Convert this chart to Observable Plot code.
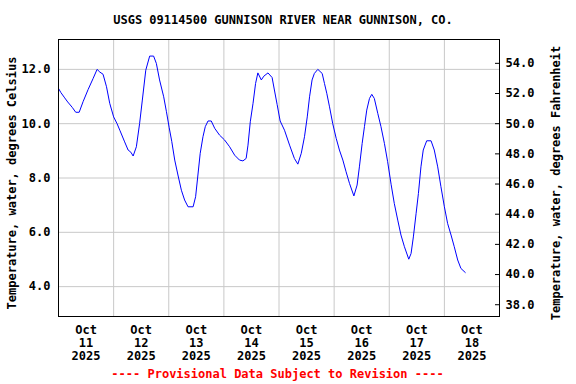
<!DOCTYPE html>
<html>
<head>
<meta charset="utf-8">
<script src="https://cdn.jsdelivr.net/npm/d3@7"></script>
<script src="https://cdn.jsdelivr.net/npm/@observablehq/plot@0.6"></script>
<style>
  body { margin: 0; background: #fff; }
  #wrap { width: 576px; height: 384px; overflow: hidden; font-family: "DejaVu Sans Mono", monospace; font-weight: bold; font-size: 12px; }
  .title { height: 30px; box-sizing: border-box; padding-top: 13px; line-height: 14px; text-align: center; padding-right: 10px; color: #000; white-space: pre; }
  .footer { height: 20px; line-height: 20px; text-align: center; padding-right: 21px; color: #ff0000; white-space: pre; }
  #chart svg { display: block; }
</style>
</head>
<body>
<div id="wrap">
  <div class="title" id="title"></div>
  <div id="chart"></div>
  <div class="footer" id="footer"></div>
</div>
<script>
// ---- data ----
const title = "USGS 09114500 GUNNISON RIVER NEAR GUNNISON, CO.";
const footer = "---- Provisional Data Subject to Revision ----";
const yLabelLeft = "Temperature, water, degrees Celsius";
const yLabelRight = "Temperature, water, degrees Fahrenheit";

// hours since 2025-10-11 00:00
const hours = [
  0, 1, 2.7, 4, 6, 7.5, 9, 10.7, 12.9, 15.1, 16.8, 18, 19.4, 20.9, 22.3,
  24, 25.5, 26.7, 28.8, 30.3, 31.5, 32.5, 33.9, 35.3, 36.5, 38, 39.7, 41.4, 42.6, 44, 45.8, 47,
  48.2, 49.3, 50.6, 52, 53.5, 54.9, 56.4, 58.6, 59.7, 60.7, 61.7, 62.9, 63.9, 65.1, 66.5, 68, 70.1,
  72.3, 74.5, 76.7, 78.8, 80.3, 81.7, 82.5, 83.5, 84.7, 85.8, 86.8, 88.3, 89.4, 91.2, 93, 94, 95.2,
  96.5, 98.4, 100.6, 102.7, 104.2, 105.7, 107.1, 108.3, 109.3, 110.4, 111.4, 112.9, 114.8, 115.8, 116.8, 118, 119.4,
  120.9, 122.3, 123.8, 125.2, 126.7, 128.6, 130, 131, 132.2, 133.2, 134.2, 135.4, 136.4, 137.5, 139, 140.4, 141.9, 143.3,
  144.8, 146.2, 147.7, 149.1, 150.6, 152.5, 153.5, 154.5, 155.7, 156.7, 157.8, 158.8, 160.3, 162.2, 163.6, 165.1, 166.5,
  168, 169.4, 170.9, 172.3, 173.8, 175.2, 177.1
];
const tempC = [
  11.30, 11.15, 10.95, 10.80, 10.60, 10.42, 10.42, 10.81, 11.26, 11.67, 12.00, 11.90, 11.82, 11.36, 10.75,
  10.25, 10.00, 9.76, 9.33, 9.03, 8.95, 8.81, 9.15, 10.00, 10.87, 11.97, 12.49, 12.49, 12.22, 11.61, 10.99, 10.44,
  9.85, 9.35, 8.66, 8.11, 7.55, 7.19, 6.94, 6.94, 7.31, 8.11, 8.91, 9.52, 9.89, 10.10, 10.10, 9.83, 9.58,
  9.40, 9.15, 8.84, 8.66, 8.63, 8.72, 9.21, 10.07, 10.75, 11.48, 11.87, 11.61, 11.75, 11.87, 11.70, 11.24, 10.70,
  10.10, 9.76, 9.21, 8.72, 8.51, 8.91, 9.52, 10.25, 10.99, 11.61, 11.85, 12.00, 11.85, 11.48, 11.12, 10.62, 10.00,
  9.46, 9.03, 8.66, 8.23, 7.80, 7.34, 7.74, 8.41, 9.27, 9.89, 10.50, 10.93, 11.08, 10.93, 10.38, 9.89, 9.27, 8.60,
  7.77, 7.06, 6.45, 5.90, 5.47, 5.01, 5.22, 5.83, 6.70, 7.43, 8.41, 9.03, 9.37, 9.37, 9.03, 8.41, 7.68,
  6.94, 6.33, 5.90, 5.47, 4.98, 4.67, 4.52
];

const dayTicks = [11, 12, 13, 14, 15, 16, 17, 18];
const celsiusTicks = [4, 6, 8, 10, 12];
const fahrenheitTicks = [38, 40, 42, 44, 46, 48, 50, 52, 54];
const yDomainC = [2.9, 13.1];

// ---- build ----
const start = Date.UTC(2025, 9, 11);
const end = Date.UTC(2025, 9, 19);
const data = hours.map((h, i) => ({ t: new Date(start + h * 3600e3), c: tempC[i] }));
const noonTicks = dayTicks.map(d => new Date(Date.UTC(2025, 9, d, 12)));
const midnightGrid = dayTicks.slice(1).map(d => new Date(Date.UTC(2025, 9, d)));
const fAsC = fahrenheitTicks.map(f => (f - 32) / 1.8);

document.getElementById("title").textContent = title;
document.getElementById("footer").textContent = footer;

const W = 576, mL = 58, mR = 77;
const chart = Plot.plot({
  width: W,
  height: 334,
  marginTop: 9,
  marginBottom: 48,
  marginLeft: mL,
  marginRight: mR,
  style: { fontFamily: "'DejaVu Sans Mono', monospace", fontSize: "12px", fontWeight: "bold", color: "#000", background: "#fff", overflow: "visible" },
  x: { type: "utc", domain: [new Date(start), new Date(end)] },
  y: { domain: yDomainC },
  marks: [
    Plot.gridX(midnightGrid, { stroke: "#c8c8c8", strokeOpacity: 1 }),
    Plot.gridY(celsiusTicks, { stroke: "#c8c8c8", strokeOpacity: 1 }),
    Plot.line(data, { x: "t", y: "c", stroke: "#0000ff", strokeWidth: 1 }),
    Plot.frame({ stroke: "#000" }),
    Plot.axisX(noonTicks, { tickSize: 0, tickPadding: 8, label: null, lineHeight: 1.08,
      tickFormat: d => `Oct\n${d.getUTCDate()}\n${d.getUTCFullYear()}` }),
    Plot.axisY(celsiusTicks, { anchor: "left", tickSize: 0, tickPadding: 8, label: null, tickFormat: d => d.toFixed(1) }),
    Plot.axisY(fAsC, { anchor: "right", tickSize: 0, tickPadding: 6, label: null, tickFormat: c => (c * 1.8 + 32).toFixed(1) }),
    Plot.tickY(fAsC, { insetLeft: W - mL - mR - 4, stroke: "#000" }),
    Plot.text([yLabelLeft], { text: d => d, frameAnchor: "left", textAnchor: "middle", rotate: -90, dx: -46, dy: 5 }),
    Plot.text([yLabelRight], { text: d => d, frameAnchor: "right", textAnchor: "middle", rotate: -90, dx: 57, dy: 5 })
  ]
});
document.getElementById("chart").appendChild(chart);
</script>
</body>
</html>
